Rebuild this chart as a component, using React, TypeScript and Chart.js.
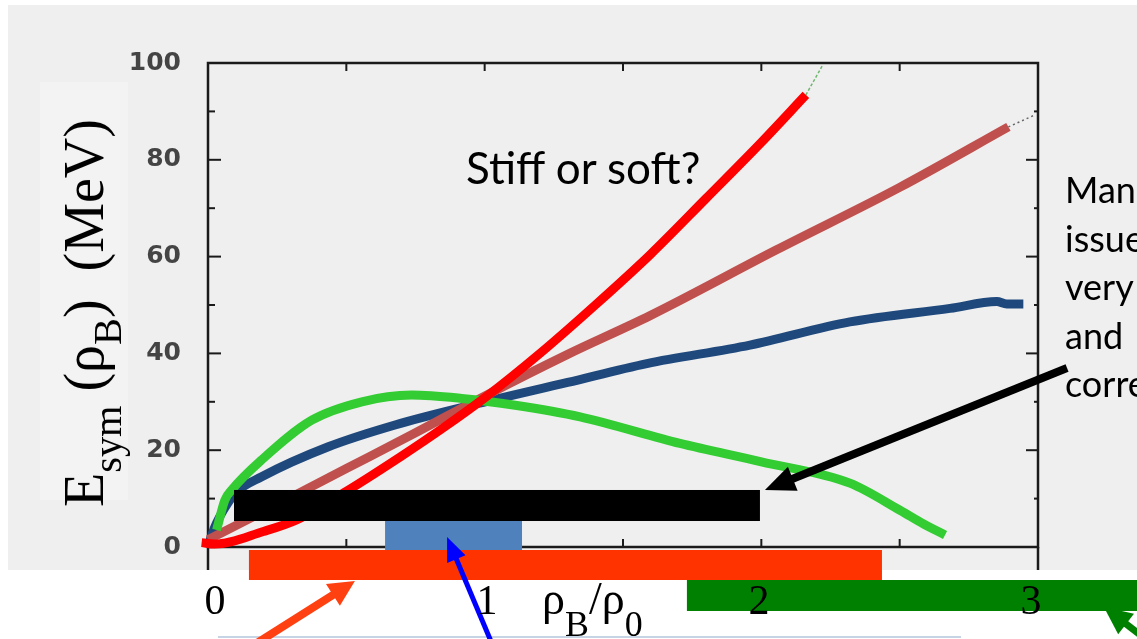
import React, { useEffect, useRef } from "react";
import { Chart, registerables } from "chart.js";

Chart.register(...registerables);

// ---------------- data ----------------
// density rho_B / rho_0 (x) and symmetry energy in MeV (y)
const axisLabelValues = [0, 1, 2, 3];
const xTickMarks = [0, 0.5, 1, 1.5, 2, 2.5, 3];
const yMajorTicks = [0, 20, 40, 60, 80, 100];
const yMinorTicks = [10, 30, 50, 70, 90];

// red (stiffest)
const stiffX = [-0.023, 0.025, 0.2, 0.32, 0.5, 0.7, 0.85, 1.0, 1.2, 1.4, 1.6, 1.8, 2.0, 2.161];
const stiffY = [0.9, 0.6, 3.2, 5.6, 11.5, 18.8, 24.6, 30.8, 40.0, 50.0, 60.5, 72.0, 83.6, 93.4];
// thin dashed continuation of the stiff curve
const stiffExtX = [2.161, 2.222];
const stiffExtY = [93.4, 99.6];

// brown (linear)
const linearX = [0, 0.25, 0.5, 0.75, 0.994, 1.3, 1.598, 2.055, 2.5, 2.893];
const linearY = [1.5, 8.8, 16.2, 23.6, 31.0, 39.8, 47.8, 61.4, 74.3, 86.8];
const linearExtX = [2.893, 2.99];
const linearExtY = [86.8, 89.3];

// navy (soft)
const softX = [0, 0.025, 0.06, 0.098, 0.194, 0.435, 0.676, 0.953, 1.3, 1.586, 1.959, 2.32, 2.682, 2.851, 2.887, 2.947];
const softY = [0.1, 4.2, 8.0, 11.1, 14.5, 20.7, 25.2, 29.3, 34.0, 37.9, 41.7, 46.5, 49.3, 50.7, 50.2, 50.2];

// green (super soft)
const superSoftX = [0.031, 0.061, 0.086, 0.194, 0.375, 0.556, 0.736, 0.917, 1.11, 1.345, 1.706, 2.0, 2.32, 2.501, 2.585, 2.664];
const superSoftY = [3.5, 9.7, 11.8, 18.0, 26.2, 30.0, 31.4, 30.7, 29.3, 26.9, 21.4, 17.6, 13.2, 7.6, 4.8, 2.5];

// density ranges drawn as bars (x from/to in rho/rho0, y top/bottom in MeV units)
const rangeFrom = [0.094, 0.640, 0.148, 1.731];
const rangeTo = [1.995, 1.135, 2.436, 3.36];
const rangeTop = [11.78, 5.37, -0.62, -6.82];
const rangeBottom = [5.37, -0.83, -6.82, -13.22];

// arrows (data units)
const arrowFromX = [0.137, 1.036, 3.105, 3.441];
const arrowFromY = [-21.28, -21.28, 36.98, -21.28];
const arrowToX = [0.531, 0.864, 2.013, 3.238];
const arrowToY = [-7.02, 2.07, 11.78, -12.4];

// faint separator line of a text box
const boxLineX = [0.036, 2.722];
const boxLineY = [-18.6, -18.6];

const rightTextLines = ["Man", "issue", "very", "and", "corre"];

// ---------------- styles ----------------
const rangeColors = ["#000000", "#4f81bd", "#ff3300", "#008000"];
const arrowColors = ["#ff4010", "#0000ff", "#000000", "#008000"];
const arrowWidths = [8, 5, 8, 7];
const arrowHeadLen = [26, 24, 30, 28];
const arrowHeadWid = [26, 20, 26, 26];
const CURVE_WIDTH = 9;

const W = 1137;
const H = 639;
const IMAGE_BOTTOM = 570;
const LABEL_AXIS_MIN = -0.0257;
const LABEL_AXIS_MAX = 3.0257;

const pts = (xs: number[], ys: number[]) => xs.map((x, i) => ({ x, y: ys[i] }));

function seg(ctx: CanvasRenderingContext2D, x1: number, y1: number, x2: number, y2: number) {
  ctx.beginPath();
  ctx.moveTo(x1, y1);
  ctx.lineTo(x2, y2);
  ctx.stroke();
}

const slidePlugin = {
  id: "slide",
  beforeDraw(chart: any) {
    const { ctx } = chart;
    ctx.save();
    ctx.fillStyle = "#ffffff";
    ctx.fillRect(0, 0, chart.width, chart.height);
    ctx.fillStyle = "#efefef";
    ctx.fillRect(8, 5, chart.width - 8, IMAGE_BOTTOM - 5);
    ctx.fillStyle = "#f3f3f3";
    ctx.fillRect(40, 82, 88, 418);
    ctx.restore();
  },
  beforeDatasetsDraw(chart: any) {
    const { ctx, chartArea: a } = chart;
    const x = chart.scales.x;
    const y = chart.scales.y;
    ctx.save();
    ctx.strokeStyle = "#1a1a1a";
    ctx.lineWidth = 2.5;
    ctx.strokeRect(a.left, a.top, a.right - a.left, a.bottom - a.top);
    seg(ctx, a.left, a.bottom, a.left, IMAGE_BOTTOM);
    seg(ctx, a.right, a.bottom, a.right, IMAGE_BOTTOM);
    ctx.lineWidth = 2;
    xTickMarks.forEach((v) => {
      const p = x.getPixelForValue(v);
      seg(ctx, p, a.top, p, a.top + 8);
      seg(ctx, p, a.bottom, p, a.bottom - 8);
    });
    yMajorTicks.forEach((v) => {
      const p = y.getPixelForValue(v);
      seg(ctx, a.left, p, a.left + 13, p);
      seg(ctx, a.right, p, a.right - 12, p);
    });
    yMinorTicks.forEach((v) => {
      const p = y.getPixelForValue(v);
      seg(ctx, a.left, p, a.left + 7, p);
      seg(ctx, a.right, p, a.right - 4, p);
    });
    ctx.restore();
  },
  afterDatasetsDraw(chart: any) {
    const { ctx } = chart;
    const x = chart.scales.x;
    const y = chart.scales.y;
    ctx.save();
    // bars
    rangeFrom.forEach((x0, i) => {
      const px0 = x.getPixelForValue(x0);
      const px1 = x.getPixelForValue(rangeTo[i]);
      const py0 = y.getPixelForValue(rangeTop[i]);
      const py1 = y.getPixelForValue(rangeBottom[i]);
      ctx.fillStyle = rangeColors[i];
      ctx.fillRect(px0, py0, px1 - px0, py1 - py0);
    });
    // faint box line
    ctx.strokeStyle = "#c6d4e6";
    ctx.lineWidth = 2;
    seg(
      ctx,
      x.getPixelForValue(boxLineX[0]),
      y.getPixelForValue(boxLineY[0]),
      x.getPixelForValue(boxLineX[1]),
      y.getPixelForValue(boxLineY[1])
    );
    // arrows
    arrowFromX.forEach((fx, i) => {
      const x1 = x.getPixelForValue(fx);
      const y1 = y.getPixelForValue(arrowFromY[i]);
      const x2 = x.getPixelForValue(arrowToX[i]);
      const y2 = y.getPixelForValue(arrowToY[i]);
      const dx = x2 - x1;
      const dy = y2 - y1;
      const len = Math.hypot(dx, dy);
      const ux = dx / len;
      const uy = dy / len;
      const bx = x2 - ux * arrowHeadLen[i];
      const by = y2 - uy * arrowHeadLen[i];
      ctx.strokeStyle = arrowColors[i];
      ctx.fillStyle = arrowColors[i];
      ctx.lineWidth = arrowWidths[i];
      ctx.lineCap = "butt";
      seg(ctx, x1, y1, bx + ux * 2, by + uy * 2);
      const hw = arrowHeadWid[i] / 2;
      ctx.beginPath();
      ctx.moveTo(x2, y2);
      ctx.lineTo(bx - uy * hw, by + ux * hw);
      ctx.lineTo(bx + uy * hw, by - ux * hw);
      ctx.closePath();
      ctx.fill();
    });
    ctx.restore();
  },
};

const curve = (xs: number[], ys: number[], color: string, order: number) => ({
  data: pts(xs, ys),
  borderColor: color,
  backgroundColor: color,
  borderWidth: CURVE_WIDTH,
  borderCapStyle: "butt",
  borderJoinStyle: "round",
  pointRadius: 0,
  fill: false,
  cubicInterpolationMode: "monotone",
  clip: false,
  order,
  xAxisID: "x",
  yAxisID: "y",
});

export default function App() {
  const ref = useRef<HTMLCanvasElement | null>(null);

  useEffect(() => {
    const canvas = ref.current;
    if (!canvas) return;
    const chart = new Chart(canvas, {
      type: "line",
      data: {
        datasets: [
          curve(stiffX, stiffY, "#ff0000", 0),
          curve(superSoftX, superSoftY, "#33cc33", 1),
          curve(linearX, linearY, "#c0504d", 2),
          curve(softX, softY, "#1f497d", 3),
          {
            data: pts(stiffExtX, stiffExtY),
            borderColor: "#6fb86f",
            borderWidth: 1.5,
            borderDash: [3, 2],
            pointRadius: 0,
            order: 4,
            xAxisID: "x",
            yAxisID: "y",
          },
          {
            data: pts(linearExtX, linearExtY),
            borderColor: "#666666",
            borderWidth: 1.5,
            borderDash: [2, 3],
            pointRadius: 0,
            order: 5,
            xAxisID: "x",
            yAxisID: "y",
          },
        ] as any,
      },
      options: {
        responsive: false,
        animation: false,
        devicePixelRatio: 1,
        events: [],
        layout: { padding: { left: 0, right: 99, top: 63, bottom: 0 } },
        plugins: {
          legend: { display: false },
          tooltip: { enabled: false },
          title: { display: false },
        },
        scales: {
          x: { type: "linear", axis: "x", min: 0, max: 3, display: false },
          xl: {
            type: "linear",
            axis: "x",
            position: "bottom",
            min: LABEL_AXIS_MIN,
            max: LABEL_AXIS_MAX,
            grid: { display: false, drawTicks: false },
            border: { display: false },
            afterBuildTicks: (axis: any) => {
              axis.ticks = axisLabelValues.map((v) => ({ value: v }));
            },
            afterFit: (s: any) => {
              s.height = H - 547;
            },
            ticks: {
              padding: 31,
              z: 1,
              maxRotation: 0,
              autoSkip: false,
              color: "#000000",
              font: { family: '"Liberation Serif", "Times New Roman", serif', size: 42 },
              callback: (v: any) => String(v),
            },
          },
          y: {
            type: "linear",
            position: "left",
            min: 0,
            max: 100,
            grid: { display: false, drawTicks: false },
            border: { display: false },
            afterFit: (s: any) => {
              s.width = 208;
            },
            ticks: {
              stepSize: 20,
              padding: 27,
              color: "#444444",
              font: { family: '"DejaVu Sans", sans-serif', size: 25, weight: "bold" },
            },
          },
        } as any,
      },
      plugins: [slidePlugin as any],
    });
    return () => chart.destroy();
  }, []);

  const subY: React.CSSProperties = { fontSize: "0.72em", position: "relative", top: "0.45em" };
  const subX: React.CSSProperties = { fontSize: "0.78em", position: "relative", top: "0.6em" };

  return (
    <div
      style={{
        position: "absolute",
        left: 0,
        top: 0,
        width: W,
        height: H,
        overflow: "hidden",
        background: "#ffffff",
      }}
    >
      <canvas
        ref={ref}
        width={W}
        height={H}
        style={{ position: "absolute", left: 0, top: 0, width: W, height: H }}
      />
      <div
        style={{
          position: "absolute",
          left: 466,
          top: 145,
          fontFamily: "Lato, 'Open Sans', sans-serif",
          fontSize: 44,
          lineHeight: "44px",
          whiteSpace: "pre",
          color: "#000",
        }}
      >
        Stiff or soft?
      </div>
      <div
        style={{
          position: "absolute",
          left: 1065,
          top: 165,
          fontFamily: "Lato, 'Open Sans', sans-serif",
          fontSize: 36,
          lineHeight: "48.5px",
          whiteSpace: "pre",
          color: "#000",
        }}
      >
        {rightTextLines.join("\n")}
      </div>
      <div
        style={{
          position: "absolute",
          left: 542,
          top: 576,
          fontFamily: "'Liberation Serif', 'Times New Roman', serif",
          fontSize: 46,
          lineHeight: "46px",
          whiteSpace: "pre",
          color: "#000",
        }}
      >
        ρ<span style={subX}>B</span>/ρ<span style={subX}>0</span>
      </div>
      <div
        style={{
          position: "absolute",
          left: 87,
          top: 313,
          transform: "translate(-50%, -50%) rotate(-90deg)",
          fontFamily: "'Liberation Serif', 'Times New Roman', serif",
          fontSize: 56,
          lineHeight: "56px",
          whiteSpace: "pre",
          color: "#000",
        }}
      >
        E<span style={subY}>sym</span> (ρ<span style={subY}>B</span>)  (MeV)
      </div>
    </div>
  );
}
